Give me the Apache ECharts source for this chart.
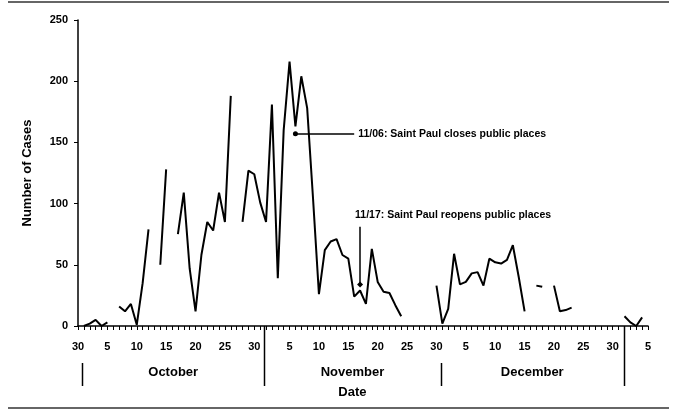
<!DOCTYPE html>
<html><head><meta charset="utf-8">
<script src="https://cdn.jsdelivr.net/npm/echarts@6/dist/echarts.min.js"></script>
<style>html,body{margin:0;padding:0;background:#fff}#c{width:677px;height:411px}</style>
</head><body><div id="c"></div>
<script>
const categories = [
  '9/30',
  '10/1','10/2','10/3','10/4','10/5','10/6','10/7','10/8','10/9','10/10',
  '10/11','10/12','10/13','10/14','10/15','10/16','10/17','10/18','10/19','10/20',
  '10/21','10/22','10/23','10/24','10/25','10/26','10/27','10/28','10/29','10/30','10/31',
  '11/1','11/2','11/3','11/4','11/5','11/6','11/7','11/8','11/9','11/10',
  '11/11','11/12','11/13','11/14','11/15','11/16','11/17','11/18','11/19','11/20',
  '11/21','11/22','11/23','11/24','11/25','11/26','11/27','11/28','11/29','11/30',
  '12/1','12/2','12/3','12/4','12/5','12/6','12/7','12/8','12/9','12/10',
  '12/11','12/12','12/13','12/14','12/15','12/16','12/17','12/18','12/19','12/20',
  '12/21','12/22','12/23','12/24','12/25','12/26','12/27','12/28','12/29','12/30','12/31',
  '1/1','1/2','1/3','1/4','1/5'
];
const cases = [
  null,
  0, 2, 5, 0, 3, null, 16, 12, 18, 1,
  35, 79, null, 50, 128, null, 75, 109, 47, 12,
  58, 85, 78, 109, 85, 188, null, 85, 127, 124, 101,
  85, 181, 39, 160, 216, 163, 204, 178, 104, 26,
  62, 69, 71, 58, 55, 24, 29, 18, 63, 36,
  28, 27, 17, 8, null, null, null, null, null, 33,
  2, 14, 59, 34, 36, 43, 44, 33, 55, 52,
  51, 54, 66, 40, 12, null, 33, 32, null, 33,
  12, 13, 15, null, null, null, null, null, null, null, null,
  8, 3, 0, 7, null
];
const monthNames = ['October', 'November', 'December'];
const monthBounds = [0.7, 31.7, 61.7, 92.9];
const closeNote = { date: '11/6', value: 157, lineTo: '11/16', text: '11/06: Saint Paul closes public places' };
const reopenNote = { date: '11/17', from: 81, to: 34, textValue: 91, text: '11/17: Saint Paul reopens public places' };

const FONT = '"Liberation Sans", Arial, sans-serif';
const chart = echarts.init(document.getElementById('c'), null, { renderer: 'canvas' });
const boldLbl = { color: '#000', fontWeight: 'bold', fontSize: 11, fontFamily: FONT };
const noteLbl = { color: '#000', fontWeight: 'bold', fontSize: 10.5, fontFamily: FONT };
chart.setOption({
  animation: false,
  textStyle: { fontFamily: FONT },
  grid: { left: 78, right: 29, top: 20, bottom: 85 },
  xAxis: {
    type: 'category', data: categories, boundaryGap: false,
    axisLine: { lineStyle: { color: '#000', width: 1.5 } },
    axisTick: { interval: 0, length: 4, lineStyle: { color: '#000', width: 1 } },
    axisLabel: Object.assign({
      interval: (i, v) => (+v.split('/')[1]) % 5 === 0,
      formatter: v => v.split('/')[1],
      margin: 15
    }, boldLbl),
    splitLine: { show: false }
  },
  yAxis: {
    type: 'value', min: 0, max: 250, interval: 50,
    name: 'Number of Cases', nameLocation: 'middle', nameRotate: 90, nameGap: 44,
    nameTextStyle: { color: '#000', fontWeight: 'bold', fontSize: 13, fontFamily: FONT },
    axisLine: { show: true, lineStyle: { color: '#000', width: 1.5 } },
    axisTick: { show: true, length: 4, lineStyle: { color: '#000', width: 1 } },
    axisLabel: Object.assign({ margin: 10 }, boldLbl),
    splitLine: { show: false }
  },
  series: [{
    type: 'line', data: cases, symbol: 'none', connectNulls: false,
    lineStyle: { color: '#000', width: 2 },
    markLine: {
      silent: true, animation: false, symbol: ['none', 'none'],
      lineStyle: { color: '#000', width: 1.5, type: 'solid' },
      label: { show: false },
      emphasis: { disabled: true },
      data: [
        [
          { coord: [closeNote.date, closeNote.value], symbol: 'circle', symbolSize: 5 },
          { coord: [closeNote.lineTo, closeNote.value], symbol: 'none',
            label: Object.assign({ show: true, position: 'end', distance: 4, formatter: closeNote.text }, noteLbl) }
        ],
        [
          { coord: [reopenNote.date, reopenNote.from], symbol: 'none' },
          { coord: [reopenNote.date, reopenNote.to], symbol: 'diamond', symbolSize: 6 }
        ]
      ]
    },
    markPoint: {
      silent: true, animation: false,
      data: [{
        coord: [reopenNote.date, reopenNote.textValue], symbol: 'circle', symbolSize: 0,
        itemStyle: { color: 'transparent' },
        label: Object.assign({ show: true, position: 'right', distance: 0, offset: [-5, 0], formatter: reopenNote.text }, noteLbl)
      }]
    }
  }]
});

const x0 = chart.convertToPixel({ xAxisIndex: 0 }, 0);
const step = chart.convertToPixel({ xAxisIndex: 0 }, 1) - x0;
const yZero = chart.convertToPixel({ yAxisIndex: 0 }, 0);
const px = f => x0 + step * f;
const W = 677;
const g = [
  { type: 'line', shape: { x1: 8, y1: 2, x2: W - 8, y2: 2 }, style: { stroke: '#666', lineWidth: 2 } },
  { type: 'line', shape: { x1: 8, y1: 408, x2: W - 8, y2: 408 }, style: { stroke: '#666', lineWidth: 2 } }
];
monthBounds.forEach((f, i) => {
  const long = (i === 1 || i === 3);
  const x = Math.round(px(f)) + 0.5;
  g.push({ type: 'line', shape: { x1: x, y1: long ? yZero : 363, x2: x, y2: 386 }, style: { stroke: '#000', lineWidth: 1.5 } });
});
monthNames.forEach((m, i) => {
  g.push({ type: 'text', x: (px(monthBounds[i]) + px(monthBounds[i + 1])) / 2, y: 372,
    style: { text: m, font: 'bold 13px ' + FONT, fill: '#000', textAlign: 'center', textVerticalAlign: 'middle' } });
});
g.push({ type: 'text', x: (px(monthBounds[1]) + px(monthBounds[2])) / 2, y: 392,
  style: { text: 'Date', font: 'bold 13px ' + FONT, fill: '#000', textAlign: 'center', textVerticalAlign: 'middle' } });
chart.setOption({ graphic: g });
</script>
</body></html>
